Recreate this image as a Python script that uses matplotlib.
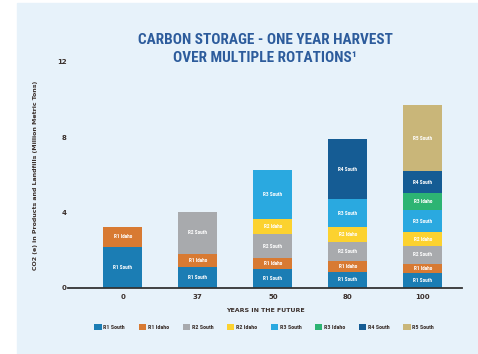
import matplotlib
matplotlib.use("Agg")
import matplotlib.pyplot as plt
import numpy as np
from matplotlib import font_manager
from matplotlib.patches import Rectangle

# ---- data ----
years = ["0", "37", "50", "80", "100"]
series_names = ["R1 South", "R1 Idaho", "R2 South", "R2 Idaho",
                "R3 South", "R3 Idaho", "R4 South", "R5 South"]
r1_south = [2.2, 1.1, 1.0, 0.85, 0.8]
r1_idaho = [1.05, 0.7, 0.6, 0.6, 0.5]
r2_south = [0, 2.25, 1.25, 1.0, 0.95]
r2_idaho = [0, 0, 0.8, 0.8, 0.7]
r3_south = [0, 0, 2.6, 1.45, 1.2]
r3_idaho = [0, 0, 0, 0, 0.9]
r4_south = [0, 0, 0, 3.2, 1.15]
r5_south = [0, 0, 0, 0, 3.5]
series = [r1_south, r1_idaho, r2_south, r2_idaho,
          r3_south, r3_idaho, r4_south, r5_south]
colors = ["#1b7db4", "#d87a32", "#a8aaad", "#fcd22f",
          "#2aa9e0", "#2db473", "#155c94", "#c9b679"]

BG = "#e7f2fa"
TXT = "#3b302c"
TITLE = "#2d5c9c"

# pick a narrow face if one is installed
installed = {f.name for f in font_manager.fontManager.ttflist}
narrow_name = next((n for n in ["Liberation Sans Narrow", "Roboto Condensed",
                                "Open Sans Condensed", "DejaVu Sans Condensed"]
                    if n in installed), None)
narrow = [narrow_name, "DejaVu Sans"] if narrow_name else ["DejaVu Sans"]
title_size = 11 if narrow_name else 8.3

fig = plt.figure(figsize=(4.78, 3.54), dpi=100, facecolor="white")
fig.patches.append(Rectangle((17 / 478, 0), 1, 1 - 3 / 354,
                             transform=fig.transFigure, color=BG, zorder=-1))

ax = fig.add_axes([68 / 478, 1 - 288 / 354, (462 - 68) / 478, (288 - 62) / 354])
ax.set_facecolor("none")

x = np.arange(len(years))
bottom = np.zeros(len(years))
for name, vals, col in zip(series_names, series, colors):
    vals = np.array(vals, dtype=float)
    ax.bar(x, vals, 0.52, bottom=bottom, color=col, label=name, zorder=2)
    for xi, b, v in zip(x, bottom, vals):
        if v > 0:
            ax.text(xi, b + v / 2, name, ha="center", va="center",
                    color="white", fontsize=3.8, fontweight="bold",
                    family=narrow, zorder=3)
    bottom += vals

ax.set_xlim(-0.73, 4.52)
ax.set_ylim(0, 12)
ax.set_yticks([0, 4, 8, 12])
ax.set_xticks(x)
ax.set_xticklabels(years)
for s in ["top", "right", "left"]:
    ax.spines[s].set_visible(False)
ax.spines["bottom"].set_color("#333333")
ax.spines["bottom"].set_linewidth(1.3)
ax.tick_params(length=0, labelsize=5, labelcolor=TXT, pad=4)
ax.tick_params(axis="y", pad=1)
for lab in ax.get_xticklabels() + ax.get_yticklabels():
    lab.set_fontweight("bold")

ax.set_xlabel("YEARS IN THE FUTURE", fontsize=4.5, color=TXT,
              fontweight="bold", labelpad=6)
ax.set_ylabel("CO2 (e) in Products and Landfills (Million Metric Tons)",
              fontsize=4.5, color=TXT, fontweight="bold", labelpad=14)

fig.text(0.555, 1 - 49 / 354, "CARBON STORAGE - ONE YEAR HARVEST\nOVER MULTIPLE ROTATIONS\u00b9",
         ha="center", va="center", color=TITLE, fontsize=title_size,
         fontweight="bold", family=narrow, linespacing=1.3)

fig.legend(loc="center", bbox_to_anchor=(0.553, 1 - 327 / 354), ncol=8,
           frameon=False, handlelength=1.2, handleheight=1.3,
           handletextpad=0.3, columnspacing=2.3, labelcolor=TXT,
           prop={"family": narrow, "weight": "bold", "size": 4.3})

fig.savefig("out.png", dpi=100, facecolor="white")
